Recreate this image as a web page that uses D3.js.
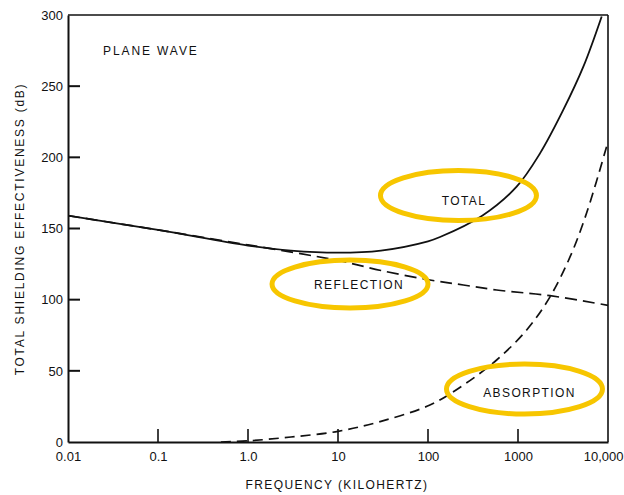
<!DOCTYPE html>
<html>
<head>
<meta charset="utf-8">
<script src="https://cdn.jsdelivr.net/npm/d3@7/dist/d3.min.js"></script>
<style>
  html, body { margin: 0; padding: 0; background: #fff; }
  svg { display: block; }
  text { font-family: "Liberation Sans", Arial, Helvetica, sans-serif; fill: #111; }
</style>
</head>
<body>
<svg id="chart" width="624" height="495"></svg>
<script>
// ---- data ----
const xTickValues = [0.01, 0.1, 1, 10, 100, 1000, 10000];
const xTickLabels = ["0.01", "0.1", "1.0", "10", "100", "1000", "10,000"];
const yTickValues = [0, 50, 100, 150, 200, 250, 300];

const totalFreq  = [0.01, 0.1, 1, 3, 10, 30, 100, 136, 400, 966, 1756, 3184, 5321, 8511];
const totalSE    = [159, 149, 138, 134.5, 133, 134.5, 141, 144, 159, 179.4, 202.8, 233.3, 263.7, 299];

const reflFreq   = [0.01, 0.1, 1, 10, 30, 105, 247, 579, 2269, 10000];
const reflSE     = [159, 149, 138.5, 127.5, 120.5, 113.8, 110.3, 106.8, 102.8, 96];

const absFreq    = [0.5, 1, 3, 10, 30, 105, 247, 579, 1248, 2269, 3784, 5794, 10000];
const absSE      = [0, 0.8, 3.5, 7.5, 14.5, 26, 40, 57.6, 78.7, 102, 130, 161, 211];

const labels    = ["TOTAL", "REFLECTION", "ABSORPTION"];
const ellFreq   = [218, 13.6, 1180];
const ellSE     = [173.2, 111, 37.2];
const textFreq  = [251, 17.1, 1343];
const textSE    = [166.5, 107.5, 31.6];

// ---- layout ----
const svg = d3.select("#chart");
const pLeft = 68, pRight = 608, pTop = 15, pBottom = 442;

const x = d3.scaleLog().domain([0.01, 10000]).range([pLeft, pRight]);
const y = d3.scaleLinear().domain([0, 300]).range([pBottom, pTop]);

svg.append("defs").append("clipPath").attr("id", "plot")
  .append("rect").attr("x", pLeft).attr("y", pTop - 1)
  .attr("width", pRight - pLeft + 2).attr("height", pBottom - pTop + 1);

// frame: top and right borders
svg.append("line").attr("x1", pLeft).attr("x2", pRight).attr("y1", y(300)).attr("y2", y(300))
  .attr("stroke", "#111").attr("stroke-width", 1.6);
svg.append("line").attr("x1", pRight).attr("x2", pRight).attr("y1", y(300)).attr("y2", y(0))
  .attr("stroke", "#111").attr("stroke-width", 1.6);

// x axis
const xAxis = d3.axisBottom(x)
  .tickValues(xTickValues)
  .tickFormat((d, i) => xTickLabels[i])
  .tickSize(0).tickPadding(10);
const gx = svg.append("g").attr("transform", `translate(0,${pBottom})`).call(xAxis);
gx.select(".domain").attr("stroke", "#111").attr("stroke-width", 2);
gx.selectAll("text").style("font-size", "13px").attr("fill", "#111");
gx.selectAll(".tick").filter(d => d === 10000).select("text")
  .attr("text-anchor", "end").attr("x", 15);
// inward ticks (upwards)
svg.append("g").selectAll("line")
  .data(xTickValues.filter(v => v > 0.01 && v < 10000))
  .join("line")
  .attr("x1", d => x(d)).attr("x2", d => x(d))
  .attr("y1", pBottom).attr("y2", pBottom - 13)
  .attr("stroke", "#111").attr("stroke-width", 1.6);

// y axis
const yAxis = d3.axisLeft(y).tickValues(yTickValues).tickSize(0).tickPadding(5);
const gy = svg.append("g").attr("transform", `translate(${pLeft},0)`).call(yAxis);
gy.select(".domain").attr("stroke", "#111").attr("stroke-width", 2);
gy.selectAll("text").style("font-size", "13px").attr("fill", "#111");
svg.append("g").selectAll("line")
  .data(yTickValues.filter(v => v > 0 && v < 300))
  .join("line")
  .attr("x1", pLeft).attr("x2", pLeft + 12)
  .attr("y1", d => y(d)).attr("y2", d => y(d))
  .attr("stroke", "#111").attr("stroke-width", 2);

// axis titles
svg.append("text").attr("x", 337).attr("y", 489).attr("text-anchor", "middle")
  .style("font-size", "12px").style("letter-spacing", "1.4px")
  .text("FREQUENCY (KILOHERTZ)");
svg.append("text").attr("transform", "translate(24,229) rotate(-90)")
  .attr("text-anchor", "middle")
  .style("font-size", "12px").style("letter-spacing", "1.75px")
  .text("TOTAL SHIELDING EFFECTIVENESS (dB)");

svg.append("text").attr("x", 103).attr("y", 55)
  .style("font-size", "12px").style("letter-spacing", "1.9px")
  .text("PLANE WAVE");

// curves
const line = d3.line().x(d => x(d[0])).y(d => y(d[1])).curve(d3.curveCatmullRom.alpha(0.5));
const plot = svg.append("g").attr("clip-path", "url(#plot)");

plot.append("path").datum(reflFreq.map((f, i) => [f, reflSE[i]]))
  .attr("d", line).attr("fill", "none").attr("stroke", "#111")
  .attr("stroke-width", 1.7).attr("stroke-dasharray", "12,6");
plot.append("path").datum(absFreq.map((f, i) => [f, absSE[i]]))
  .attr("d", line).attr("fill", "none").attr("stroke", "#111")
  .attr("stroke-width", 1.7).attr("stroke-dasharray", "10,6");
plot.append("path").datum(totalFreq.map((f, i) => [f, totalSE[i]]))
  .attr("d", line).attr("fill", "none").attr("stroke", "#111")
  .attr("stroke-width", 1.8);

// highlight ellipses and labels
const ellRx = [78, 78, 78], ellRy = [25, 24, 25];
labels.forEach((t, i) => {
  svg.append("ellipse").attr("cx", x(ellFreq[i])).attr("cy", y(ellSE[i]))
    .attr("rx", ellRx[i]).attr("ry", ellRy[i])
    .attr("fill", "none").attr("stroke", "#F7C600").attr("stroke-width", 5);
});
labels.forEach((t, i) => {
  svg.append("text").attr("x", x(textFreq[i])).attr("y", y(textSE[i]))
    .attr("text-anchor", "middle")
    .style("font-size", "12px").style("letter-spacing", "1.4px")
    .text(t);
});
</script>
</body>
</html>
